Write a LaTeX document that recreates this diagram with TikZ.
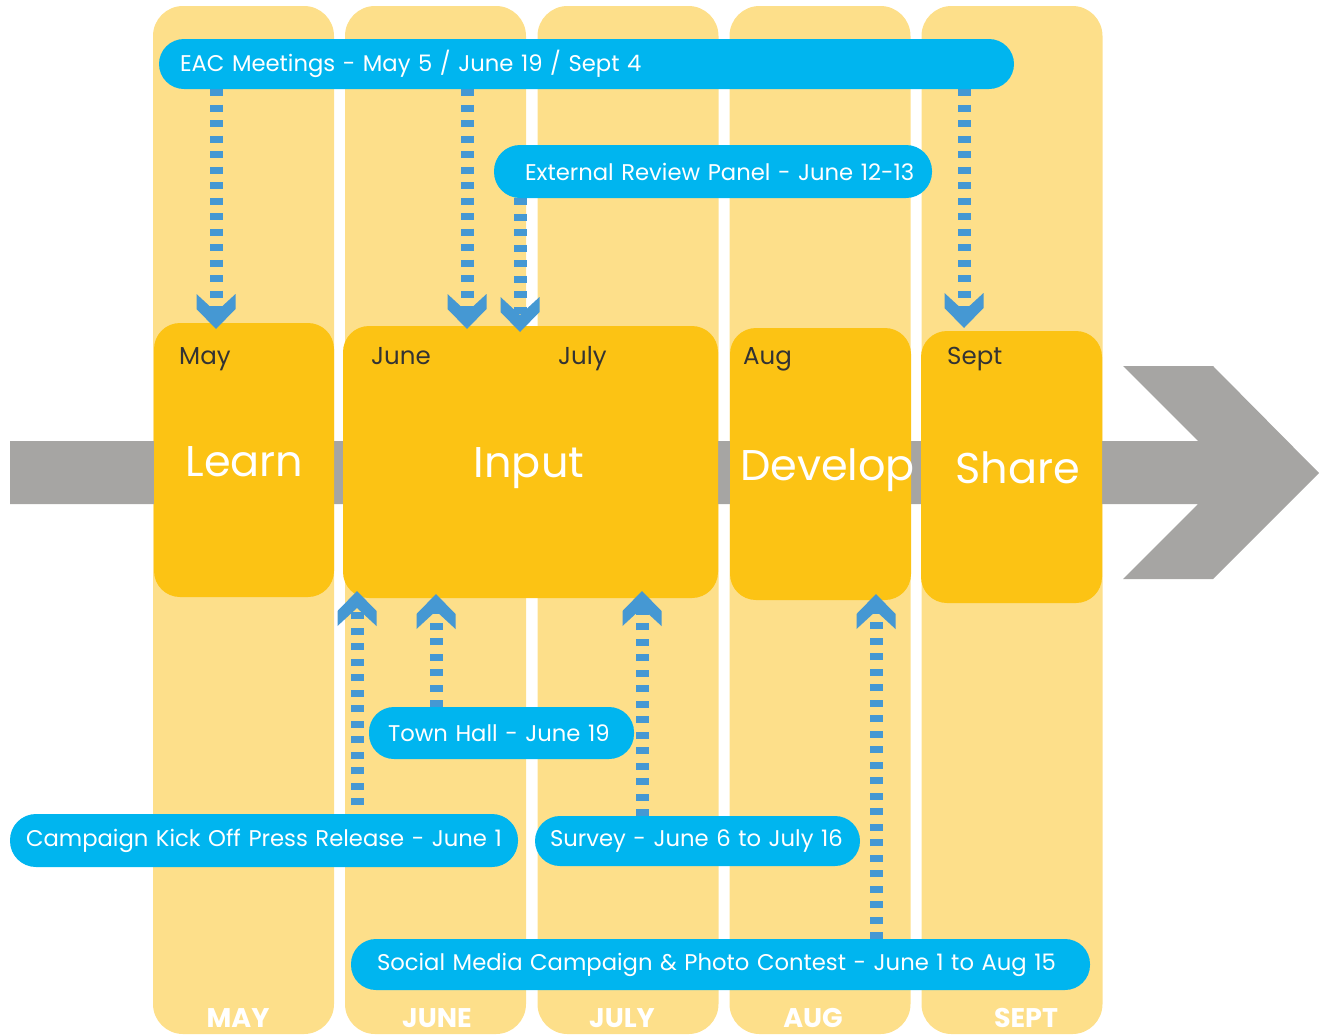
\documentclass[tikz,border=0pt]{standalone}
\usepackage{fontspec}
\setmainfont{Poppins}
\definecolor{colbg}{HTML}{FDDF8A}
\definecolor{boxbg}{HTML}{FCC314}
\definecolor{pillblue}{HTML}{00B5EF}
\definecolor{arrblue}{HTML}{4598D3}
\definecolor{barg}{HTML}{A6A5A3}
\definecolor{darktext}{HTML}{333333}
\tikzset{
  colbox/.style={fill=colbg, rounded corners=30pt, minimum width=181pt, minimum height=1028pt, inner sep=0pt},
  phasebox/.style={fill=boxbg, rounded corners=26pt, minimum height=272pt, inner sep=0pt},
  monthtxt/.style={text=darktext, font=\fontsize{24.5}{28}\selectfont, anchor=base west, inner sep=0pt},
  bigtxt/.style={text=white, font=\fontsize{43}{50}\selectfont, anchor=base, inner sep=0pt},
  bottxt/.style={text=white, font=\fontsize{27}{32}\selectfont\bfseries, anchor=base, inner sep=0pt},
  pill/.style={fill=pillblue, rounded corners=25pt, text=white, font=\fontsize{22.7}{26}\selectfont, align=left, inner ysep=0pt},
  dashline/.style={draw=arrblue, line width=13pt, dash pattern=on 7pt off 8.5pt, shorten >=17pt},
  chevdown/.pic={\fill[arrblue] (-19.5,-35)--(0,-17)--(19.5,-35)--(19.5,-20)--(0,0)--(-19.5,-20)--cycle;},
  chevup/.pic={\fill[arrblue] (-19.5,35)--(0,17)--(19.5,35)--(19.5,20)--(0,0)--(-19.5,20)--cycle;}
}
\begin{document}
\begin{tikzpicture}[x=1pt,y=-1pt]
\useasboundingbox (0,0) rectangle (1328,1034);
% month columns
\node[colbox] (cmay)  at (243.5,520) {};
\node[colbox] (cjune) at (435.5,520) {};
\node[colbox] (cjuly) at (628,520) {};
\node[colbox] (caug)  at (820,520) {};
\node[colbox] (csept) at (1012,520) {};
% gray timeline arrow
\fill[barg] (10,441) -- (1198,441) -- (1123,366) -- (1213,366) -- (1319,473) -- (1213,579) -- (1123,579) -- (1198,504) -- (10,504) -- cycle;
% phase boxes
\node[phasebox, minimum width=180pt, minimum height=274pt] (learn) at (244,460) {};
\node[phasebox, minimum width=375pt] (input) at (530.5,462) {};
\node[phasebox, minimum width=181pt] (develop) at (820.5,464) {};
\node[phasebox, minimum width=181pt] (share) at (1011.5,467) {};
\node[monthtxt] (lmay) at (179,364) {May};
\node[monthtxt] (ljune) at (371,364) {June};
\node[monthtxt] (ljuly) at (558,364) {July};
\node[monthtxt] (laug) at (743,364) {Aug};
\node[monthtxt] (lsept) at (947,364) {Sept};
\node[bigtxt] (tlearn) at (244.5,476) {Learn};
\node[bigtxt] (tinput) at (529,477) {Input};
\node[bigtxt] (tdevelop) at (827.5,480) {Develop};
\node[bigtxt] (tshare) at (1017.5,483) {Share};
% bottom month names
\node[bottxt] (bmay) at (238,1027) {MAY};
\node[bottxt] (bjune) at (437,1027) {JUNE};
\node[bottxt] (bjuly) at (622,1027) {JULY};
\node[bottxt] (baug) at (813,1027) {AUG};
\node[bottxt] (bsept) at (1026,1027) {SEPT};
% arrow tips and pill centres
\coordinate (d1) at (216,329);
\coordinate (d2) at (467,329);
\coordinate (d3) at (964,328);
\coordinate (d4) at (520,332);
\coordinate (u1) at (357,591);
\coordinate (u2) at (436,594);
\coordinate (u3) at (642,591);
\coordinate (u4) at (876,594);
\path (586.5,64) coordinate (peac)
      (713,171.5) coordinate (perp)
      (501.5,733) coordinate (pth)
      (264,840.5) coordinate (pcamp)
      (697.5,841) coordinate (psurv)
      (720.5,964.5) coordinate (psoc);
% dashed connectors (drawn beneath the pills)
\path (peac) ++(0,25) coordinate (eacS);
\draw[dashline] (eacS -| d1) -- (d1);
\draw[dashline] (eacS -| d2) -- (d2);
\draw[dashline] (eacS -| d3) -- (d3);
\path (perp) ++(0,26.5) coordinate (erpS);
\draw[dashline] (erpS -| d4) -- (d4);
\path (pcamp) ++(0,-20) coordinate (campN);
\draw[dashline] (campN -| u1) -- (u1);
\path (pth) ++(0,-26) coordinate (thN);
\draw[dashline] (thN -| u2) -- (u2);
\path (psurv) ++(0,-25) coordinate (survN);
\draw[dashline] (survN -| u3) -- (u3);
\path (psoc) ++(0,-25.5) coordinate (socN);
\draw[dashline] (socN -| u4) -- (u4);
\pic at (d1) {chevdown};
\pic at (d2) {chevdown};
\pic at (d3) {chevdown};
\pic at (d4) {chevdown};
\pic at (u1) {chevup};
\pic at (u2) {chevup};
\pic at (u3) {chevup};
\pic at (u4) {chevup};
% pills
\node[pill, minimum height=50pt, inner xsep=21pt, text width=813pt] (eac) at (peac) {EAC Meetings - May 5 / June 19 / Sept 4};
\node[pill, minimum height=53pt, inner xsep=9pt, text width=420pt, rounded corners=26pt] (erp) at (perp) {\hspace*{22pt}External Review Panel - June 12\mbox{-}13};
\node[pill, minimum height=52pt, inner xsep=19pt, text width=227pt] (th) at (pth) {Town Hall - June 19};
\node[pill, minimum height=53pt, inner xsep=16pt, text width=476pt, rounded corners=26pt] (camp) at (pcamp) {Campaign Kick Off Press Release - June 1};
\node[pill, minimum height=50pt, inner xsep=15pt, text width=295pt] (surv) at (psurv) {Survey - June 6 to July 16};
\node[pill, minimum height=51pt, inner xsep=26pt, text width=687pt] (soc) at (psoc) {Social Media Campaign \& Photo Contest - June 1 to Aug 15};
\end{tikzpicture}
\end{document}
